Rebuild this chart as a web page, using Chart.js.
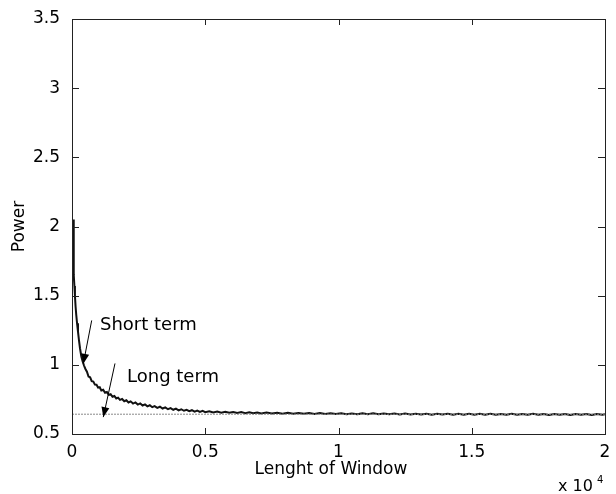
<!DOCTYPE html>
<html>
<head>
<meta charset="utf-8">
<script src="https://cdn.jsdelivr.net/npm/chart.js@4/dist/chart.umd.min.js"></script>
<style>
  html, body { margin: 0; padding: 0; background: #fff; }
  #wrap { width: 616px; height: 494px; }
</style>
</head>
<body>
<div id="wrap"><canvas id="myChart" width="616" height="494"></canvas></div>
<script>
// window length (raw units, axis shows x 10^4) and measured power
var windowLen = [40, 56, 65, 75, 90, 110, 135, 160, 190, 225, 260, 300, 350, 400, 450, 500, 560, 620, 680, 740,
  800, 860, 920, 980, 1040, 1100, 1170, 1240, 1310, 1380, 1450, 1520, 1590, 1660, 1730, 1800, 1880, 1960, 2040, 2120,
  2200, 2290, 2380, 2470, 2560, 2650, 2740, 2830, 2920, 3010, 3100, 3200, 3300, 3400, 3500, 3600, 3700, 3800, 3900, 4000,
  4100, 4200, 4300, 4400, 4500, 4600, 4700, 4800, 4900, 5000, 5150, 5300, 5450, 5600, 5750, 5900, 6050, 6200, 6350, 6500,
  6650, 6800, 6950, 7100, 7300, 7500, 7700, 7900, 8100, 8300, 8500, 8700, 8900, 9100, 9300, 9500, 9700, 9900, 10100, 10300,
  10500, 10700, 10900, 11100, 11300, 11500, 11700, 11900, 12100, 12300, 12500, 12700, 12900, 13100, 13300, 13500, 13700, 13900, 14100, 14300,
  14500, 14700, 14900, 15100, 15300, 15500, 15700, 15900, 16100, 16300, 16500, 16700, 16900, 17100, 17300, 17500, 17700, 17900, 18100, 18300,
  18500, 18700, 18900, 19100, 19300, 19500, 19700, 19900, 20000]
var power = [2.05, 2.04, 1.86, 1.65, 1.57, 1.50, 1.42, 1.36, 1.30, 1.24, 1.18, 1.12, 1.06, 1.025, 0.995, 0.972, 0.95, 0.915, 0.91, 0.882,
  0.879, 0.857, 0.856, 0.835, 0.838, 0.815, 0.82, 0.798, 0.803, 0.783, 0.788, 0.769, 0.775, 0.757, 0.763, 0.747, 0.753, 0.737, 0.744, 0.728,
  0.736, 0.72, 0.728, 0.713, 0.721, 0.706, 0.714, 0.700, 0.708, 0.694, 0.702, 0.689, 0.697, 0.684, 0.692, 0.679, 0.687, 0.675, 0.683, 0.671,
  0.679, 0.668, 0.675, 0.665, 0.672, 0.662, 0.669, 0.660, 0.667, 0.658, 0.665, 0.656, 0.663, 0.654, 0.661, 0.653, 0.659, 0.652, 0.658, 0.651,
  0.657, 0.650, 0.656, 0.649, 0.655, 0.648, 0.654, 0.647, 0.653, 0.646, 0.652, 0.646, 0.651, 0.645, 0.651, 0.644, 0.650, 0.644, 0.650, 0.643,
  0.649, 0.643, 0.649, 0.642, 0.649, 0.642, 0.648, 0.642, 0.648, 0.641, 0.648, 0.641, 0.647, 0.641, 0.647, 0.640, 0.647, 0.641, 0.646, 0.640,
  0.647, 0.640, 0.646, 0.640, 0.646, 0.639, 0.646, 0.640, 0.645, 0.639, 0.646, 0.639, 0.645, 0.639, 0.646, 0.639, 0.645, 0.638, 0.645, 0.639,
  0.645, 0.638, 0.645, 0.639, 0.644, 0.638, 0.645, 0.639, 0.642]

// long term level (dotted line)
var longTermX = [0, 20000]
var longTermY = [0.643, 0.643]

var xTicks = [0, 5000, 10000, 15000, 20000]
var yTicks = [0.5, 1, 1.5, 2, 2.5, 3, 3.5]

// annotations: text anchor and arrow (from -> tip), in data units
var notes = [
  { text: 'Short term', tx: 1050, ty: 1.285, ax: 739, ay: 1.321, bx: 424, by: 1.008 },
  { text: 'Long term', tx: 2064, ty: 0.911, ax: 1613, ay: 1.01, bx: 1174, by: 0.622 }
]

var FONT = 'DejaVu Sans, Verdana, sans-serif'

function toPoints(xs, ys) {
  var pts = []
  for (var i = 0; i < xs.length; i++) pts.push({ x: xs[i], y: ys[i] })
  return pts
}

// draws the matlab style box, inward ticks, axis titles and arrows
var matlabStuff = {
  id: 'matlabStuff',
  afterDraw: function (chart) {
    var ctx = chart.ctx
    var a = chart.chartArea
    var xs = chart.scales.x, ys = chart.scales.y
    ctx.save()
    ctx.strokeStyle = '#222'
    ctx.lineWidth = 1
    ctx.strokeRect(Math.round(a.left) + 0.5, Math.round(a.top) + 0.5, Math.round(a.right - a.left), Math.round(a.bottom - a.top))
    ctx.beginPath()
    xTicks.forEach(function (v) {
      var px = Math.round(xs.getPixelForValue(v)) + 0.5
      ctx.moveTo(px, a.bottom); ctx.lineTo(px, a.bottom - 6)
      ctx.moveTo(px, a.top); ctx.lineTo(px, a.top + 6)
    })
    yTicks.forEach(function (v) {
      var py = Math.round(ys.getPixelForValue(v)) + 0.5
      ctx.moveTo(a.left, py); ctx.lineTo(a.left + 7, py)
      ctx.moveTo(a.right, py); ctx.lineTo(a.right - 7, py)
    })
    ctx.stroke()

    // arrows + labels
    ctx.fillStyle = '#000'
    ctx.strokeStyle = '#000'
    notes.forEach(function (n) {
      var x1 = xs.getPixelForValue(n.ax), y1 = ys.getPixelForValue(n.ay)
      var x2 = xs.getPixelForValue(n.bx), y2 = ys.getPixelForValue(n.by)
      var ang = Math.atan2(y2 - y1, x2 - x1)
      ctx.beginPath()
      ctx.moveTo(x1, y1); ctx.lineTo(x2, y2)
      ctx.stroke()
      ctx.beginPath()
      ctx.moveTo(x2, y2)
      ctx.lineTo(x2 - 10 * Math.cos(ang) + 4 * Math.sin(ang), y2 - 10 * Math.sin(ang) - 4 * Math.cos(ang))
      ctx.lineTo(x2 - 10 * Math.cos(ang) - 4 * Math.sin(ang), y2 - 10 * Math.sin(ang) + 4 * Math.cos(ang))
      ctx.closePath()
      ctx.fill()
      ctx.font = '18px ' + FONT
      ctx.textAlign = 'left'
      ctx.textBaseline = 'middle'
      ctx.fillText(n.text, xs.getPixelForValue(n.tx), ys.getPixelForValue(n.ty))
    })

    // axis titles
    ctx.font = '17px ' + FONT
    ctx.textAlign = 'center'
    ctx.textBaseline = 'middle'
    ctx.fillText('Lenght of Window', 331, 470)
    ctx.save()
    ctx.translate(20, (a.top + a.bottom) / 2)
    ctx.rotate(-Math.PI / 2)
    ctx.fillText('Power', 0, 0)
    ctx.restore()

    // exponent
    ctx.font = '16px ' + FONT
    ctx.textAlign = 'left'
    ctx.fillText('x 10', 558, 487)
    ctx.font = '10px ' + FONT
    ctx.fillText('4', 597, 480)
    ctx.restore()
  }
}

var ctx = document.getElementById('myChart').getContext('2d')
var chart = new Chart(ctx, {
  type: 'scatter',
  data: {
    datasets: [{
      label: 'Long term',
      data: toPoints(longTermX, longTermY),
      showLine: true,
      borderColor: '#8a8a8a',
      borderWidth: 1,
      borderDash: [2, 1],
      pointRadius: 0
    }, {
      label: 'Power',
      data: toPoints(windowLen, power),
      showLine: true,
      borderColor: '#111',
      borderWidth: 2,
      pointRadius: 0,
      tension: 0
    }]
  },
  options: {
    responsive: false,
    animation: false,
    events: [],
    layout: { padding: { left: 0, right: 11, top: 19, bottom: 0 } },
    plugins: { legend: { display: false }, tooltip: { enabled: false } },
    scales: {
      x: {
        type: 'linear',
        min: 0, max: 20000,
        afterBuildTicks: function (s) { s.ticks = xTicks.map(function (v) { return { value: v } }) },
        afterFit: function (s) { s.height = 60 },
        grid: { display: false },
        border: { display: false },
        ticks: {
          padding: 0,
          color: '#000',
          font: { family: FONT, size: 17 },
          maxRotation: 0,
          callback: function (v) { return String(v / 10000) }
        }
      },
      y: {
        type: 'linear',
        min: 0.5, max: 3.5,
        afterBuildTicks: function (s) { s.ticks = yTicks.map(function (v) { return { value: v } }) },
        afterFit: function (s) { s.width = 72 },
        grid: { display: false },
        border: { display: false },
        ticks: {
          padding: 4,
          color: '#000',
          font: { family: FONT, size: 17 },
          callback: function (v) { return String(v) }
        }
      }
    }
  },
  plugins: [matlabStuff]
})
</script>
</body>
</html>
